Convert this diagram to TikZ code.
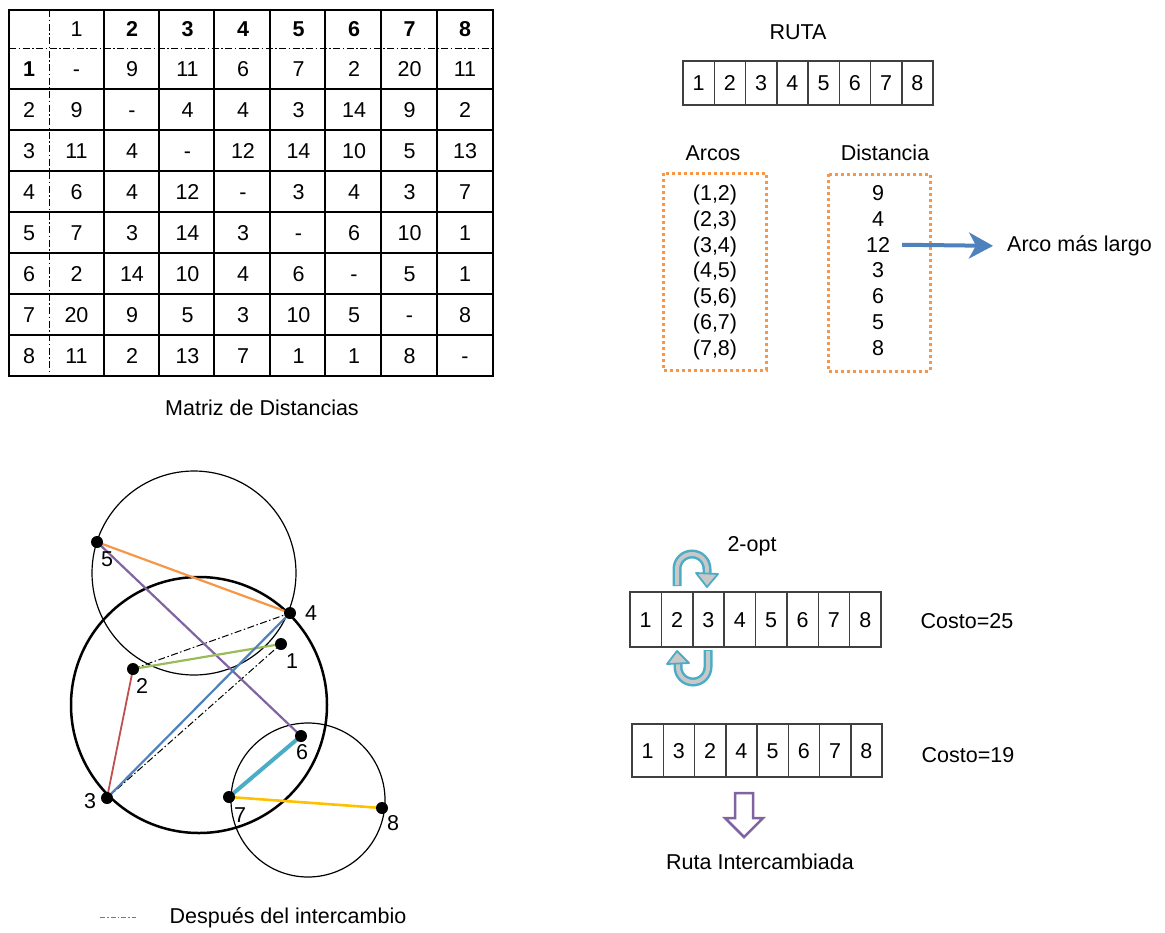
\documentclass[tikz,border=0pt]{standalone}
\usepackage{fontspec}
\setmainfont{Liberation Sans}
\usetikzlibrary{arrows.meta}

\definecolor{accOrange}{HTML}{F79646}
\definecolor{accBlue}{HTML}{4F81BD}
\definecolor{accPurple}{HTML}{8064A2}
\definecolor{accGreen}{HTML}{9BBB59}
\definecolor{accRed}{HTML}{C0504D}
\definecolor{accAqua}{HTML}{4BACC6}
\definecolor{accGold}{HTML}{FFC000}
\definecolor{gridgray}{HTML}{404040}
\definecolor{bandgray}{HTML}{C8C8C8}

\tikzset{
  txt/.style={font=\fontsize{21.5}{25}\selectfont, inner sep=0pt},
  cell/.style={txt, text height=15pt, text depth=0pt},
  grid/.style={line width=1.3pt, black},
  dashdot/.style={line width=1pt, dash pattern=on 7pt off 2.5pt on 1.5pt off 2.5pt},
  routecell/.style={draw=gridgray, line width=1.4pt, minimum width=31.3pt, inner sep=0pt,
                    font=\fontsize{21.5}{25}\selectfont, text height=15pt, text depth=0pt},
  orangebox/.style={draw=accOrange, line width=3pt, dash pattern=on 3pt off 3pt},
  dot/.style={circle, fill=black, minimum size=12pt, inner sep=0pt},
  thincirc/.style={line width=1.2pt, black},
  thickcirc/.style={line width=2.5pt, black},
  band/.style={line width=9pt, accAqua},
  bandfill/.style={line width=4pt, bandgray},
}

\begin{document}
\begin{tikzpicture}[x=1pt,y=-1pt]
\useasboundingbox (0,0) rectangle (1165,932);

% ---------------- distance matrix ----------------
\draw[grid] (9,10) rectangle (493,376);
\foreach \x in {104,159,214,270,325,381,437} \draw[grid] (\x,10) -- (\x,376);
\foreach \y in {89,130,171,212,253,294,335} \draw[grid] (9,\y) -- (493,\y);
\draw[dashdot] (9,48) -- (493,48);
\draw[dashdot] (49,10) -- (49,376);

% header row and row labels
\node[cell] (h1) at (76.5,29) {1};
\foreach \j in {2,...,8}
  \node[cell, font=\fontsize{21.5}{25}\selectfont\bfseries] (h\j) at ({76.5+(\j-1)*55.5},29) {\j};
\node[cell, font=\fontsize{21.5}{25}\selectfont\bfseries] (rl1) at (29,68.5) {1};
\foreach \i in {2,...,8}
  \node[cell] (rl\i) at (29,{68.5+(\i-1)*41}) {\i};

% matrix entries
\foreach \row [count=\i] in {
  {-,9,11,6,7,2,20,11},
  {9,-,4,4,3,14,9,2},
  {11,4,-,12,14,10,5,13},
  {6,4,12,-,3,4,3,7},
  {7,3,14,3,-,6,10,1},
  {2,14,10,4,6,-,5,1},
  {20,9,5,3,10,5,-,8},
  {11,2,13,7,1,1,8,-}}
  \foreach \v [count=\j] in \row
    \node[cell] (m-\i-\j) at ({76.5+(\j-1)*55.5},{68.5+(\i-1)*41}) {\v};

\node[txt] (mtitle) at (262,408) {Matriz de Distancias};

% ---------------- route and arcs ----------------
\node[txt] (rtitle) at (798,32) {RUTA};
\foreach \v [count=\k] in {1,...,8}
  \node[routecell, minimum height=44pt] (r\k) at ({683+15.65+(\k-1)*31.25},83) {\v};

\node[txt] (arcos) at (713,153) {Arcos};
\node[txt] (dist) at (885,153) {Distancia};
\draw[orangebox] (663,173) rectangle (766,370);
\draw[orangebox] (828,174) rectangle (930,371);

\foreach \a [count=\k] in {(1,2),(2,3),(3,4),(4,5),(5,6),(6,7),(7,8)}
  \node[cell] (a\k) at (715,{193+(\k-1)*25.8}) {\a};
\foreach \d [count=\k] in {9,4,12,3,6,5,8}
  \node[cell] (d\k) at (878,{193+(\k-1)*25.8}) {\d};

\node[txt, anchor=west] (largo) at (1007,246) {Arco más largo};
\draw[accBlue, line width=4pt, shorten <=12pt, shorten >=14pt,
      -{Stealth[length=24pt, width=26pt, inset=7pt]}] (d3.east) -- (largo.west);

% ---------------- graph ----------------
\coordinate (v1) at (281,644);
\coordinate (v2) at (133,669);
\coordinate (v3) at (107,798);
\coordinate (v4) at (290,613);
\coordinate (v5) at (97,542);
\coordinate (v6) at (301,736);
\coordinate (v7) at (229,797);
\coordinate (v8) at (382,808);

\draw[thincirc] (194,573) circle[radius=102pt];
\draw[thickcirc] (199,705) circle[radius=128pt];
\draw[thincirc] (308,800) circle[radius=77pt];

\draw[dashdot] (v2) -- (v4);
\draw[dashdot] (v3) -- (v1);
\draw[accOrange, line width=2.2pt] (v5) -- (v4);
\draw[accPurple, line width=2.2pt] (v5) -- (v6);
\draw[accGreen, line width=2.2pt] (v2) -- (v1);
\draw[accRed, line width=1.8pt] (v2) -- (v3);
\draw[accBlue, line width=2.2pt] (v3) -- (v4);
\draw[accAqua, line width=4pt] (v6) -- (v7);
\draw[accGold, line width=2.6pt] (v7) -- (v8);

\foreach \k in {1,...,8} \node[dot] (n\k) at (v\k) {};

\node[txt] (l5) at (107,559) {5};
\node[txt] (l4) at (311,613) {4};
\node[txt] (l1) at (292,661) {1};
\node[txt] (l2) at (142,686) {2};
\node[txt] (l3) at (90,801) {3};
\node[txt] (l6) at (302,752) {6};
\node[txt] (l7) at (240,815) {7};
\node[txt] (l8) at (393,823) {8};

% legend
\coordinate (lg1) at (100,917);
\coordinate (lg2) at (136,917);
\draw[accBlue, line width=1pt, dash pattern=on 5pt off 2pt on 1.5pt off 2pt] (lg1) -- (lg2);
\node[txt] (legtext) at (288,918) {Después del intercambio};

% ---------------- 2-opt exchange ----------------
\node[txt] (opt) at (752,546) {2-opt};
\foreach \v [count=\k] in {1,...,8}
  \node[routecell, minimum height=55pt] (s\k) at ({630+15.7+(\k-1)*31.375},619.5) {\v};
\node[txt] (c25) at (967,621) {Costo=25};

% swap arrows above and below cells 2 and 3
\draw[band] (677,586) -- (677,569) arc[start angle=180, end angle=0, radius=15pt] -- (707,574);
\draw[bandfill] (677,585) -- (677,569) arc[start angle=180, end angle=0, radius=15pt] -- (707,574);
\filldraw[fill=bandgray, draw=accAqua, line width=1.8pt, line join=round]
  (696,573) -- (718,574) -- (707,587) -- cycle;

\draw[band] (708,650) -- (708,667) arc[start angle=0, end angle=-180, radius=15pt] -- (678,663);
\draw[bandfill] (708,651) -- (708,667) arc[start angle=0, end angle=-180, radius=15pt] -- (678,663);
\filldraw[fill=bandgray, draw=accAqua, line width=1.8pt, line join=round]
  (667,664) -- (689,663) -- (677,651) -- cycle;

\foreach \v [count=\k] in {1,3,2,4,5,6,7,8}
  \node[routecell, minimum height=53pt] (t\k) at ({632+15.65+(\k-1)*31.25},750.5) {\v};
\node[txt] (c19) at (968,755) {Costo=19};

% hollow down arrow
\filldraw[fill=white, draw=accPurple, line width=2.5pt, line join=miter]
  (735,793) -- (753,793) -- (753,818) -- (763,818) -- (744,837) -- (725,818) -- (735,818) -- cycle;
\node[txt] (rint) at (760,862) {Ruta Intercambiada};
\end{tikzpicture}
\end{document}
